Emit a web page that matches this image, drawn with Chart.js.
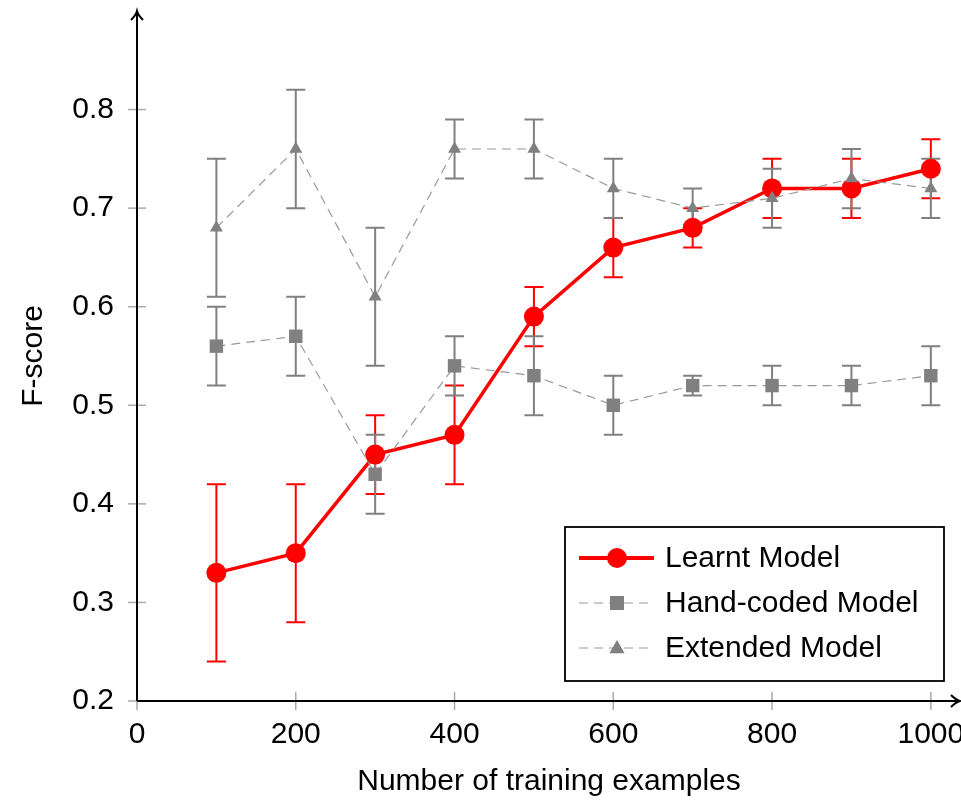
<!DOCTYPE html>
<html>
<head>
<meta charset="utf-8">
<script src="https://cdn.jsdelivr.net/npm/chart.js@4.4.0/dist/chart.umd.min.js"></script>
<style>
  body { margin: 0; background: #fff; }
  canvas { display: block; }
</style>
</head>
<body>
<canvas id="chart" width="961" height="802"></canvas>
<script>
const sizes = [100, 200, 300, 400, 500, 600, 700, 800, 900, 1000];
const learnt = [0.33, 0.35, 0.45, 0.47, 0.59, 0.66, 0.68, 0.72, 0.72, 0.74];
const learntLow = [0.24, 0.28, 0.41, 0.42, 0.56, 0.63, 0.66, 0.69, 0.69, 0.71];
const learntHigh = [0.42, 0.42, 0.49, 0.52, 0.62, 0.69, 0.70, 0.75, 0.75, 0.77];
const handCoded = [0.56, 0.57, 0.43, 0.54, 0.53, 0.50, 0.52, 0.52, 0.52, 0.53];
const handLow = [0.52, 0.53, 0.39, 0.51, 0.49, 0.47, 0.51, 0.50, 0.50, 0.50];
const handHigh = [0.60, 0.61, 0.47, 0.57, 0.57, 0.53, 0.53, 0.54, 0.54, 0.56];
const extended = [0.68, 0.76, 0.61, 0.76, 0.76, 0.72, 0.70, 0.71, 0.73, 0.72];
const extLow = [0.61, 0.70, 0.54, 0.73, 0.73, 0.69, 0.68, 0.68, 0.70, 0.69];
const extHigh = [0.75, 0.82, 0.68, 0.79, 0.79, 0.75, 0.72, 0.74, 0.76, 0.75];
const seriesNames = ['Learnt Model', 'Hand-coded Model', 'Extended Model'];
const xTicks = [0, 200, 400, 600, 800, 1000];
const yTicks = [0.2, 0.3, 0.4, 0.5, 0.6, 0.7, 0.8];

const RED = '#ff0000';
const GRAY = '#808080';
const FONT = "'Liberation Sans', Arial, Helvetica, sans-serif";

Chart.defaults.font.family = FONT;
Chart.defaults.font.size = 30;
Chart.defaults.color = '#000';

function points(vals) {
    return sizes.map((s, i) => ({x: s, y: vals[i]}));
}

function drawMarker(ctx, style, x, y, r) {
    ctx.fillStyle = style === 'circle' ? RED : GRAY;
    ctx.beginPath();
    if (style === 'circle') {
        ctx.arc(x, y, r, 0, Math.PI * 2);
    } else if (style === 'rect') {
        ctx.rect(x - r, y - r, 2 * r, 2 * r);
    } else {
        ctx.moveTo(x, y - r);
        ctx.lineTo(x + r * 0.95, y + r * 0.65);
        ctx.lineTo(x - r * 0.95, y + r * 0.65);
        ctx.closePath();
    }
    ctx.fill();
}

function noPadding(s) {
    s.paddingTop = 0; s.paddingBottom = 0;
    s.paddingLeft = 0; s.paddingRight = 0;
}

const frame = {
    id: 'frame',
    beforeDatasetsDraw(chart) {
        const ctx = chart.ctx;
        const xs = chart.scales.x, ys = chart.scales.y;
        const bars = [[learntLow, learntHigh, RED], [handLow, handHigh, GRAY], [extLow, extHigh, GRAY]];
        ctx.save();
        ctx.lineWidth = 2;
        bars.forEach(b => {
            ctx.strokeStyle = b[2];
            sizes.forEach((s, i) => {
                const px = xs.getPixelForValue(s);
                const lo = ys.getPixelForValue(b[0][i]);
                const hi = ys.getPixelForValue(b[1][i]);
                ctx.beginPath();
                ctx.moveTo(px, lo); ctx.lineTo(px, hi);
                ctx.moveTo(px - 9.5, lo); ctx.lineTo(px + 9.5, lo);
                ctx.moveTo(px - 9.5, hi); ctx.lineTo(px + 9.5, hi);
                ctx.stroke();
            });
        });
        ctx.restore();
    },
    afterDraw(chart) {
        const ctx = chart.ctx;
        const xs = chart.scales.x, ys = chart.scales.y;
        const a = chart.chartArea;
        ctx.save();
        // ticks
        ctx.strokeStyle = '#aaaaaa';
        ctx.lineWidth = 1.5;
        xTicks.forEach(v => {
            const px = xs.getPixelForValue(v);
            ctx.beginPath(); ctx.moveTo(px, a.bottom - 9); ctx.lineTo(px, a.bottom + 9); ctx.stroke();
        });
        yTicks.forEach(v => {
            const py = ys.getPixelForValue(v);
            ctx.beginPath(); ctx.moveTo(a.left - 9, py); ctx.lineTo(a.left + 9, py); ctx.stroke();
        });
        // axis lines with arrows
        ctx.strokeStyle = '#000';
        ctx.lineWidth = 2;
        ctx.beginPath();
        ctx.moveTo(a.left, a.bottom); ctx.lineTo(a.left, a.top + 1);
        ctx.moveTo(a.left, a.bottom); ctx.lineTo(a.right - 1, a.bottom);
        ctx.stroke();
        ctx.beginPath();
        ctx.moveTo(a.left - 6, a.top + 9); ctx.quadraticCurveTo(a.left - 1, a.top + 4, a.left, a.top);
        ctx.quadraticCurveTo(a.left + 1, a.top + 4, a.left + 6, a.top + 9);
        ctx.moveTo(a.right - 10, a.bottom - 6); ctx.quadraticCurveTo(a.right - 5, a.bottom - 1, a.right - 1, a.bottom);
        ctx.quadraticCurveTo(a.right - 5, a.bottom + 1, a.right - 10, a.bottom + 6);
        ctx.stroke();
        // legend
        const box = {x: 565, y: 527, w: 379, h: 154};
        ctx.fillStyle = '#fff';
        ctx.fillRect(box.x, box.y, box.w, box.h);
        ctx.strokeStyle = '#000';
        ctx.lineWidth = 1.8;
        ctx.strokeRect(box.x, box.y, box.w, box.h);
        const styles = ['circle', 'rect', 'triangle'];
        const radii = [10, 7, 8];
        seriesNames.forEach((name, i) => {
            const cy = 558 + i * 45;
            ctx.save();
            if (i === 0) {
                ctx.strokeStyle = RED; ctx.lineWidth = 4; ctx.setLineDash([]);
            } else {
                ctx.strokeStyle = '#999999'; ctx.lineWidth = 1.2; ctx.setLineDash([9, 6]);
            }
            ctx.beginPath(); ctx.moveTo(579, cy); ctx.lineTo(654, cy); ctx.stroke();
            ctx.restore();
            drawMarker(ctx, styles[i], 617, cy, radii[i]);
            ctx.fillStyle = '#000';
            ctx.font = '30px ' + FONT;
            ctx.textBaseline = 'middle';
            ctx.textAlign = 'left';
            ctx.fillText(name, 665, cy + 1);
        });
        ctx.restore();
    }
};

new Chart(document.getElementById('chart'), {
    type: 'line',
    data: {
        datasets: [{
            label: seriesNames[0],
            data: points(learnt),
            borderColor: RED,
            borderWidth: 3.5,
            pointStyle: 'circle',
            pointRadius: 10,
            pointBackgroundColor: RED,
            pointBorderWidth: 0,
            order: 3
        }, {
            label: seriesNames[1],
            data: points(handCoded),
            borderColor: '#999999',
            borderWidth: 1.2,
            borderDash: [9, 6],
            pointStyle: 'rect',
            pointRadius: 9.5,
            pointBackgroundColor: GRAY,
            pointBorderWidth: 0,
            order: 2
        }, {
            label: seriesNames[2],
            data: points(extended),
            borderColor: '#999999',
            borderWidth: 1.2,
            borderDash: [9, 6],
            pointStyle: 'triangle',
            pointRadius: 7.5,
            pointBackgroundColor: GRAY,
            pointBorderWidth: 0,
            order: 1
        }]
    },
    options: {
        responsive: false,
        animation: false,
        devicePixelRatio: 1,
        clip: false,
        layout: {autoPadding: false, padding: {top: 11, right: 0, left: 0, bottom: 0}},
        plugins: {legend: {display: false}, tooltip: {enabled: false}},
        elements: {line: {tension: 0}},
        scales: {
            x: {
                type: 'linear',
                min: 0,
                max: 1038,
                grid: {display: false, drawTicks: false},
                border: {display: false},
                afterBuildTicks: s => { s.ticks = xTicks.map(v => ({value: v})); },
                afterFit: s => { s.height = 101; noPadding(s); },
                ticks: {padding: 16, autoSkip: false, maxRotation: 0, callback: v => String(v)},
                title: {display: true, text: 'Number of training examples', padding: {top: 0, bottom: 2}}
            },
            y: {
                type: 'linear',
                min: 0.2,
                max: 0.9,
                grid: {display: false, drawTicks: false},
                border: {display: false},
                afterBuildTicks: s => { s.ticks = yTicks.map(v => ({value: v})); },
                afterFit: s => { s.width = 137; noPadding(s); },
                ticks: {padding: 23, autoSkip: false, callback: v => v.toFixed(1)},
                title: {display: true, text: 'F-score', padding: {top: 16, bottom: 0}}
            }
        }
    },
    plugins: [frame]
});
</script>
</body>
</html>
